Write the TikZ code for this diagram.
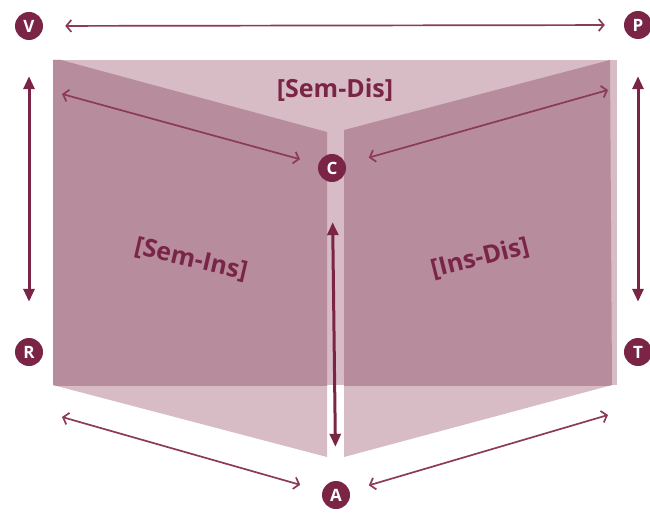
\documentclass[tikz,border=0pt]{standalone}
\usepackage{fontspec}
\setmainfont{Open Sans}
\usetikzlibrary{arrows.meta}
\definecolor{pagelight}{HTML}{D7BCC6}
\definecolor{pagedark}{HTML}{B78C9D}
\definecolor{wine}{HTML}{7B2546}
\definecolor{wineline}{HTML}{8B3A5A}
\tikzset{
    vertex/.style={circle, fill=wine, text=white, inner sep=0pt, minimum size=28pt,
        font=\bfseries\fontsize{17}{17}\selectfont},
    edgearrow/.style={wineline, line width=1.7pt,
        {Straight Barb[length=5pt,width=12pt]}-{Straight Barb[length=5pt,width=12pt]}},
    axisarrow/.style={wine, line width=3pt,
        {Triangle[length=13pt,width=11pt]}-{Triangle[length=13pt,width=11pt]}},
    facelabel/.style={wine, font=\bfseries\fontsize{25}{25}\selectfont},
}
\begin{document}
\begin{tikzpicture}[x=1pt, y=-1pt]
        \useasboundingbox (0,0) rectangle (650,513);
        \def\back{(53,60) rectangle (617,385)}
        \def\leftpage{(53,60) -- (61,60) -- (327,132) -- (327,457) -- (53,385) -- cycle}
        \def\rightpage{(344,130) -- (610,60) -- (612,385) -- (344,457) -- cycle}
        \fill[pagelight] \back;
        \fill[pagelight] \leftpage;
        \fill[pagelight] \rightpage;
        \begin{scope}
            \clip \back;
            \fill[pagedark] \leftpage;
            \fill[pagedark] \rightpage;
        \end{scope}
        \node[vertex] (V) at (29,26) {V};
        \node[vertex] (P) at (638,25) {P};
        \node[vertex] (R) at (29,352) {R};
        \node[vertex] (T) at (638,352) {T};
        \node[vertex] (C) at (332,168) {C};
        \node[vertex] (A) at (336,495) {A};
        \coordinate (lt) at (62,94);
        \coordinate (rt) at (608,90);
        \coordinate (lb) at (62,417);
        \coordinate (rb) at (608,415);
        \draw[edgearrow, shorten <=22pt, shorten >=19pt] (V) -- (P);
        \draw[edgearrow, shorten >=19pt] (lt) -- (C);
        \draw[edgearrow, shorten >=24pt] (rt) -- (C);
        \draw[edgearrow, shorten >=23pt] (lb) -- (A);
        \draw[edgearrow, shorten >=20pt] (rb) -- (A);
        \draw[axisarrow, shorten <=36pt, shorten >=36pt] (V) -- (R);
        \draw[axisarrow, shorten <=37pt, shorten >=36pt] (P) -- (T);
        \draw[axisarrow, shorten <=40pt, shorten >=34pt] (C) -- (A);
        \node[facelabel] (semdis) at (335,90) {[Sem-Dis]};
        \node[facelabel, rotate=-13] (semins) at (191,260) {[Sem-Ins]};
        \node[facelabel, rotate=14] (insdis) at (480,258) {[Ins-Dis]};
    \end{tikzpicture}
\end{document}
